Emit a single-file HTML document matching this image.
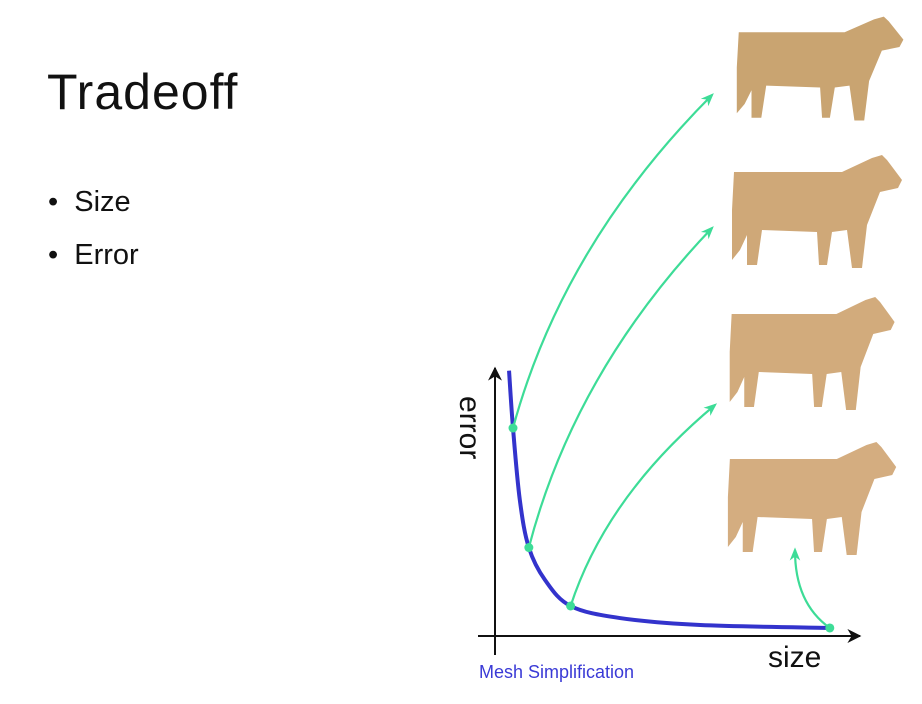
<!DOCTYPE html>
<html><head><meta charset="utf-8"><style>
html,body{margin:0;padding:0;background:#fff;}
body{width:922px;height:704px;position:relative;overflow:hidden;font-family:"Liberation Sans",sans-serif;}
#title{position:absolute;left:47px;top:63px;font-size:50px;color:#111;letter-spacing:1px;}
.bullet{position:absolute;left:48px;font-size:29px;color:#111;}
svg{position:absolute;left:0;top:0;}
</style></head><body>
<div id="title">Tradeoff</div>
<div class="bullet" style="top:186px">•&nbsp;&nbsp;Size</div>
<div class="bullet" style="top:239px">•&nbsp;&nbsp;Error</div>
<svg id="chart" width="922" height="704">
<defs>
<marker id="ah" viewBox="0 0 10 10" refX="9" refY="5" markerWidth="7" markerHeight="7" orient="auto"><path d="M0,0 L10,5 L0,10 L3,5 z" fill="#111"/></marker>
<marker id="gh" viewBox="0 0 10 10" refX="8" refY="5" markerWidth="6" markerHeight="6" orient="auto"><path d="M0,1 L10,5 L0,9 L3,5 z" fill="#3ddc97"/></marker>
<g id="cow">
<polygon points="12,22 120,22 150,8 160,5 165,10 180,30 176,38 158,42 145,75 140,118 130,118 125,80 110,82 105,115 97,115 95,82 40,80 35,115 25,115 25,85 18,100 10,110 10,60"/>
</g>
</defs>
<g id="cows"></g>
<line x1="495" y1="655" x2="495" y2="368" stroke="#111" stroke-width="2" marker-end="url(#ah)"/>
<line x1="478" y1="636" x2="860" y2="636" stroke="#111" stroke-width="2" marker-end="url(#ah)"/>
<text x="460" y="396" font-size="30" fill="#111" transform="rotate(90 460 396)">error</text>
<text x="768" y="667" font-size="30" fill="#111">size</text>
<text x="479" y="678" font-size="18" fill="#3a3ad6">Mesh Simplification</text>
<g id="marks"></g>
</svg>
<script>
const curveSize=[3.9,5,6.9,9.4,13.9,21,34.7,57,93];
const curveError=[99,77.6,50.7,33,20.9,11.2,6.7,4.1,3];
const pointSize=[5,9.4,21,93];
const pointError=[77.6,33,11.2,3];
const targetX=[712,712,715,795];
const targetY=[95,228,405,550];
const xs=v=>495+v*3.6, ys=v=>636-v*2.68;
const NS="http://www.w3.org/2000/svg";
const marks=document.getElementById('marks');
function cr(pts){let d=`M${pts[0][0]},${pts[0][1]}`;for(let i=0;i<pts.length-1;i++){const p0=pts[i-1]||pts[i],p1=pts[i],p2=pts[i+1],p3=pts[i+2]||p2;d+=` C${p1[0]+(p2[0]-p0[0])/6},${p1[1]+(p2[1]-p0[1])/6} ${p2[0]-(p3[0]-p1[0])/6},${p2[1]-(p3[1]-p1[1])/6} ${p2[0]},${p2[1]}`;}return d;}
const pts=curveSize.map((s,i)=>[xs(s),ys(curveError[i])]);
const c=document.createElementNS(NS,'path');
c.setAttribute('d',cr(pts));c.setAttribute('fill','none');c.setAttribute('stroke','#3333cc');c.setAttribute('stroke-width','4');


marks.appendChild(c);
pointSize.forEach((s,i)=>{
 const x=xs(s),y=ys(pointError[i]),tx=targetX[i],ty=targetY[i];
 const a=document.createElementNS(NS,'path');
 let cx,cy;
 if(i<3){cx=x+(tx-x)*0.25;cy=y+(ty-y)*0.55;}else{cx=x-35;cy=y-25;}
 a.setAttribute('d',`M${x},${y} Q${cx},${cy} ${tx},${ty}`);
 a.setAttribute('fill','none');a.setAttribute('stroke','#3ddc97');a.setAttribute('stroke-width','2.2');a.setAttribute('marker-end','url(#gh)');
 
 
 marks.appendChild(a);
 const d=document.createElementNS(NS,'circle');
 d.setAttribute('cx',x);d.setAttribute('cy',y);d.setAttribute('r','4.5');d.setAttribute('fill','#3ddc97');
 
 
 marks.appendChild(d);
});
const cows=document.getElementById('cows');
[[727,12,0.98,0.92],[722,150,1.0,1.0],[720,292,0.97,1.0],[718,437,0.99,1.0]].forEach((t,i)=>{
 const u=document.createElementNS(NS,'use');
 u.setAttribute('href','#cow');
 u.setAttribute('transform',`translate(${t[0]},${t[1]}) scale(${t[2]},${t[3]})`);
 u.setAttribute('fill',['#c9a471','#cfa878','#d2ab7c','#d4ad80'][i]);
 
 
 cows.appendChild(u);
});
</script>
</body></html>
